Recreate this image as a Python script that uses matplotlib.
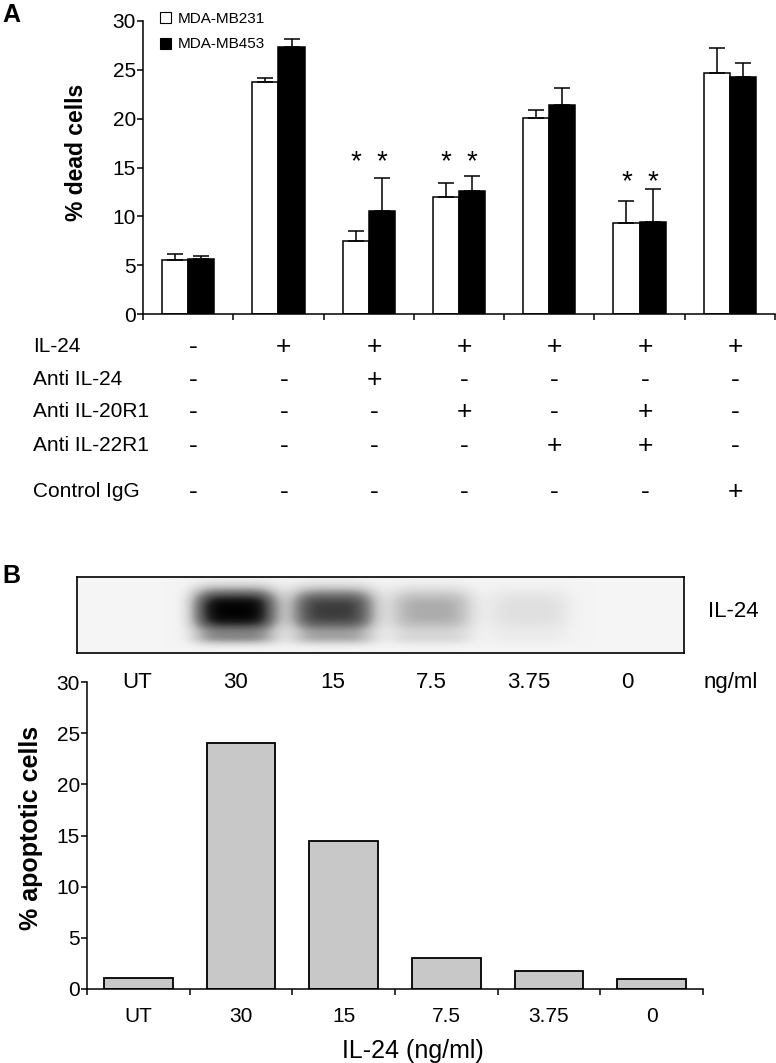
import numpy as np
import matplotlib.pyplot as plt
from matplotlib.patches import Patch
from matplotlib import transforms

plt.rcParams['font.family'] = ['Liberation Sans', 'DejaVu Sans']

# panel A data
groups = np.arange(7)
mb231 = [5.5, 23.8, 7.5, 12.0, 20.1, 9.3, 24.7]
mb231_err = [0.65, 0.4, 1.0, 1.45, 0.8, 2.3, 2.5]
mb453 = [5.65, 27.3, 10.5, 12.6, 21.4, 9.45, 24.3]
mb453_err = [0.25, 0.9, 3.4, 1.5, 1.7, 3.3, 1.45]
star_groups = [2, 3, 5]
star_y = [15.5, 15.5, 13.5]

row_labels = ['IL-24', 'Anti IL-24', 'Anti IL-20R1', 'Anti IL-22R1', 'Control IgG']
il24 = ['-', '+', '+', '+', '+', '+', '+']
anti_il24 = ['-', '-', '+', '-', '-', '-', '-']
anti_il20r1 = ['-', '-', '-', '+', '-', '+', '-']
anti_il22r1 = ['-', '-', '-', '-', '+', '+', '-']
control_igg = ['-', '-', '-', '-', '-', '-', '+']

# panel B data
doses = ['UT', '30', '15', '7.5', '3.75', '0']
apoptotic = [1.1, 24.0, 14.5, 3.0, 1.8, 0.95]
band_intensity = [0.0, 1.0, 0.8, 0.38, 0.14, 0.0]

W, H = 776, 1063
fig = plt.figure(figsize=(7.76, 10.63), dpi=100)


def rect(x0, y0, x1, y1):
    return [x0 / W, 1 - y1 / H, (x1 - x0) / W, (y1 - y0) / H]


def fy(y):
    return 1 - y / H


# ---- panel A ----
ax_a = fig.add_axes(rect(143, 21, 775, 314))
ax_a.patch.set_visible(False)
x = groups + 0.5
bw = 0.29
ax_a.bar(x - bw / 2, mb231, bw, color='white', edgecolor='black', lw=1.1)
ax_a.bar(x + bw / 2, mb453, bw, color='black', edgecolor='black', lw=1.1)
ax_a.errorbar(x - bw / 2, mb231, yerr=[np.zeros(7), mb231_err], fmt='none',
              ecolor='black', elinewidth=1.1, capsize=6, capthick=1.1)
ax_a.errorbar(x + bw / 2, mb453, yerr=[np.zeros(7), mb453_err], fmt='none',
              ecolor='black', elinewidth=1.1, capsize=6, capthick=1.1)
for g, h in zip(star_groups, star_y):
    for off in (-bw / 2, bw / 2):
        ax_a.text(x[g] + off, h, '*', ha='center', va='center', fontsize=20)

ax_a.set_xlim(0, 7)
ax_a.set_ylim(0, 30)
ax_a.set_xticks(range(8))
ax_a.set_xticklabels([])
ax_a.set_yticks(range(0, 31, 5))
for s in ['top', 'right']:
    ax_a.spines[s].set_visible(False)
for s in ['left', 'bottom']:
    ax_a.spines[s].set_linewidth(1.1)
ax_a.tick_params(length=4, width=1.1, pad=1, labelsize=15)

ax_a.legend(handles=[Patch(facecolor='white', edgecolor='black', lw=0.8, label='MDA-MB231'),
                     Patch(facecolor='black', edgecolor='black', lw=0.8, label='MDA-MB453')],
            loc='upper left', bbox_to_anchor=(160 / W, fy(12)), bbox_transform=fig.transFigure,
            frameon=False, fontsize=11, handlelength=0.75, handleheight=0.75,
            handletextpad=0.4, labelspacing=0.75, borderpad=0, borderaxespad=0)

fig.text(83 / W, fy(152), '% dead cells', rotation=90, rotation_mode='anchor',
         ha='center', va='baseline', fontsize=16.5, fontweight='bold')
fig.text(2 / W, fy(22), 'A', ha='left', va='baseline', fontsize=18, fontweight='bold')

# treatment table
trans = transforms.blended_transform_factory(ax_a.transData, fig.transFigure)
rows = [il24, anti_il24, anti_il20r1, anti_il22r1, control_igg]
row_base = [352, 385, 417, 451, 497]
for label, signs, yb in zip(row_labels, rows, row_base):
    fig.text(33 / W, fy(yb), label, ha='left', va='baseline', fontsize=15)
    for xi, s in zip(x, signs):
        ax_a.text(xi + 0.06, fy(yb + 2), s, transform=trans, ha='center',
                  va='baseline', fontsize=19)

# ---- panel B: blot ----
fig.text(2 / W, fy(583), 'B', ha='left', va='baseline', fontsize=18, fontweight='bold')
ax_blot = fig.add_axes(rect(77, 577, 684, 653))
xs = np.linspace(-0.612, 5.58, 600)
ys = np.linspace(0, 1, 80)
X, Y = np.meshgrid(xs, ys)
img = np.full_like(X, 0.09)
for i, inten in enumerate(band_intensity):
    across = np.exp(-np.abs((X - i) / 0.44) ** 4)
    core = np.exp(-np.abs((Y - 0.45) / 0.3) ** 3)
    tail = np.exp(-((Y - 0.82) / 0.09) ** 2)
    img += inten * across * (0.95 * core + 0.3 * tail)
ax_blot.imshow(img, cmap='Greys', vmin=0, vmax=1.05, extent=(xs[0], xs[-1], 1, 0),
               aspect='auto', interpolation='bilinear')
ax_blot.set_xticks([])
ax_blot.set_yticks([])
for s in ax_blot.spines.values():
    s.set_linewidth(1.2)

tb = transforms.blended_transform_factory(ax_blot.transData, fig.transFigure)
for i, d in enumerate(doses):
    ax_blot.text(i, fy(688), d, transform=tb, ha='center', va='baseline', fontsize=16)
ax_blot.text(6.06, fy(688), 'ng/ml', transform=tb, ha='center', va='baseline', fontsize=16)
ax_blot.text(6.08, fy(617), 'IL-24', transform=tb, ha='center', va='baseline', fontsize=16)

# ---- panel B: bars ----
ax_b = fig.add_axes(rect(87, 682, 703, 989))
ax_b.patch.set_visible(False)
xb = np.arange(len(doses)) + 0.5
ax_b.bar(xb, apoptotic, 0.67, color='#c8c8c8', edgecolor='black', lw=1.3)
ax_b.set_xlim(0, 6)
ax_b.set_ylim(0, 30)
ax_b.set_xticks(range(7))
ax_b.set_xticklabels([])
ax_b.set_xticks(xb, minor=True)
ax_b.set_xticklabels(doses, minor=True)
ax_b.set_yticks(range(0, 31, 5))
for s in ['top', 'right']:
    ax_b.spines[s].set_visible(False)
for s in ['left', 'bottom']:
    ax_b.spines[s].set_linewidth(1.1)
ax_b.tick_params(length=4, width=1.1, pad=1, labelsize=15)
ax_b.tick_params(axis='x', which='minor', length=0, pad=13, labelsize=15)

fig.text(38 / W, fy(828), '% apoptotic cells', rotation=90, rotation_mode='anchor',
         ha='center', va='baseline', fontsize=18, fontweight='bold')
fig.text(413 / W, fy(1058), 'IL-24 (ng/ml)', ha='center', va='baseline', fontsize=18)

fig.savefig('out.png', dpi=100)
